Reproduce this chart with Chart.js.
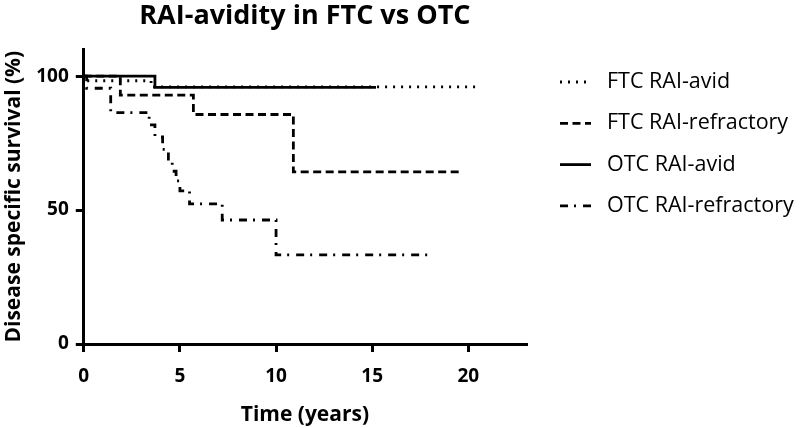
<!DOCTYPE html>
<html>
<head>
<meta charset="utf-8">
<script src="https://cdn.jsdelivr.net/npm/chart.js@4.4.1/dist/chart.umd.min.js"></script>
<style>
  body { margin: 0; background: #fff; }
  #wrap { width: 800px; height: 428px; }
</style>
</head>
<body>
<div id="wrap"><canvas id="km" width="800" height="428"></canvas></div>
<script>
// Kaplan-Meier steps (time in years, survival in %)
const ftcAvidT = [0, 0.15, 3.5, 20.6];
const ftcAvidS = [100, 98.3, 96, 96];
const ftcRefT = [0, 1.9, 5.7, 10.9, 19.7];
const ftcRefS = [100, 92.9, 85.7, 64.3, 64.3];
const otcAvidT = [0, 3.7, 15.2];
const otcAvidS = [100, 95.8, 95.8];
const otcRefT = [0, 0.15, 1.4, 3.4, 3.7, 4.1, 4.4, 4.6, 4.8, 5.0, 5.5, 7.2, 10.0, 17.9];
const otcRefS = [100, 95.5, 86.4, 81.8, 77.3, 72.7, 68.2, 64.5, 60.9, 57.2, 52.3, 46.3, 33.3, 33.3];
const seriesNames = ['FTC RAI-avid', 'FTC RAI-refractory', 'OTC RAI-avid', 'OTC RAI-refractory'];
const xTicks = [0, 5, 10, 15, 20];
const yTicks = [0, 50, 100];

const font = "'Open Sans', 'DejaVu Sans', sans-serif";

function pts(t, s) {
  return t.map((v, i) => ({ x: v, y: s[i] }));
}

function series(label, t, s, dash) {
  return {
    label: label,
    data: pts(t, s),
    stepped: true,
    borderColor: '#000',
    backgroundColor: '#000',
    borderWidth: 2.8,
    borderDash: dash,
    pointRadius: 0,
    fill: false
  };
}

// legend drawn beside the plot, one row per dataset
const sideLegend = {
  id: 'sideLegend',
  afterDraw(chart) {
    const c = chart.ctx;
    c.save();
    chart.data.datasets.forEach((ds, i) => {
      const y = 82 + i * 41.3;
      c.beginPath();
      c.setLineDash(ds.borderDash || []);
      c.lineWidth = ds.borderWidth;
      c.strokeStyle = ds.borderColor;
      c.moveTo(560, y);
      c.lineTo(591, y);
      c.stroke();
      c.setLineDash([]);
      c.fillStyle = '#000';
      c.font = '21.5px ' + font;
      c.textBaseline = 'middle';
      c.fillText(ds.label, 607, y);
    });
    c.restore();
  }
};

const ctx = document.getElementById('km').getContext('2d');

new Chart(ctx, {
  type: 'line',
  data: {
    datasets: [
      series(seriesNames[0], ftcAvidT, ftcAvidS, [2, 6]),
      series(seriesNames[1], ftcRefT, ftcRefS, [8, 4.5]),
      series(seriesNames[2], otcAvidT, otcAvidS, []),
      series(seriesNames[3], otcRefT, otcRefS, [8, 6, 2, 7])
    ]
  },
  plugins: [sideLegend],
  options: {
    responsive: false,
    animation: false,
    layout: { padding: { left: 1, right: 274, top: 0, bottom: 0 } },
    plugins: {
      title: {
        display: true,
        fullSize: false,
        text: 'RAI-avidity in FTC vs OTC',
        color: '#000',
        font: { family: font, size: 27, weight: 'bold' },
        padding: { top: 0, bottom: 17 }
      },
      legend: { display: false },
      tooltip: { enabled: false }
    },
    scales: {
      x: {
        type: 'linear',
        min: 0,
        max: 23,
        afterBuildTicks: axis => { axis.ticks = xTicks.map(v => ({ value: v })); },
        border: { color: '#000', width: 3 },
        grid: { drawOnChartArea: false, color: '#000', lineWidth: 3, tickLength: 8 },
        ticks: { color: '#000', font: { family: font, size: 19, weight: 'bold' }, padding: 13, maxRotation: 0 },
        title: {
          display: true,
          text: 'Time (years)',
          color: '#000',
          font: { family: font, size: 21, weight: 'bold' },
          padding: { top: 2, bottom: 0 }
        }
      },
      y: {
        type: 'linear',
        min: 0,
        max: 110,
        afterBuildTicks: axis => { axis.ticks = yTicks.map(v => ({ value: v })); },
        border: { color: '#000', width: 3 },
        grid: { drawOnChartArea: false, color: '#000', lineWidth: 3, tickLength: 8 },
        ticks: { color: '#000', font: { family: font, size: 19, weight: 'bold' }, padding: 7 },
        title: {
          display: true,
          text: 'Disease specific survival (%)',
          color: '#000',
          font: { family: font, size: 21, weight: 'bold' },
          padding: { top: 0, bottom: 3 }
        }
      }
    }
  }
});
</script>
</body>
</html>
